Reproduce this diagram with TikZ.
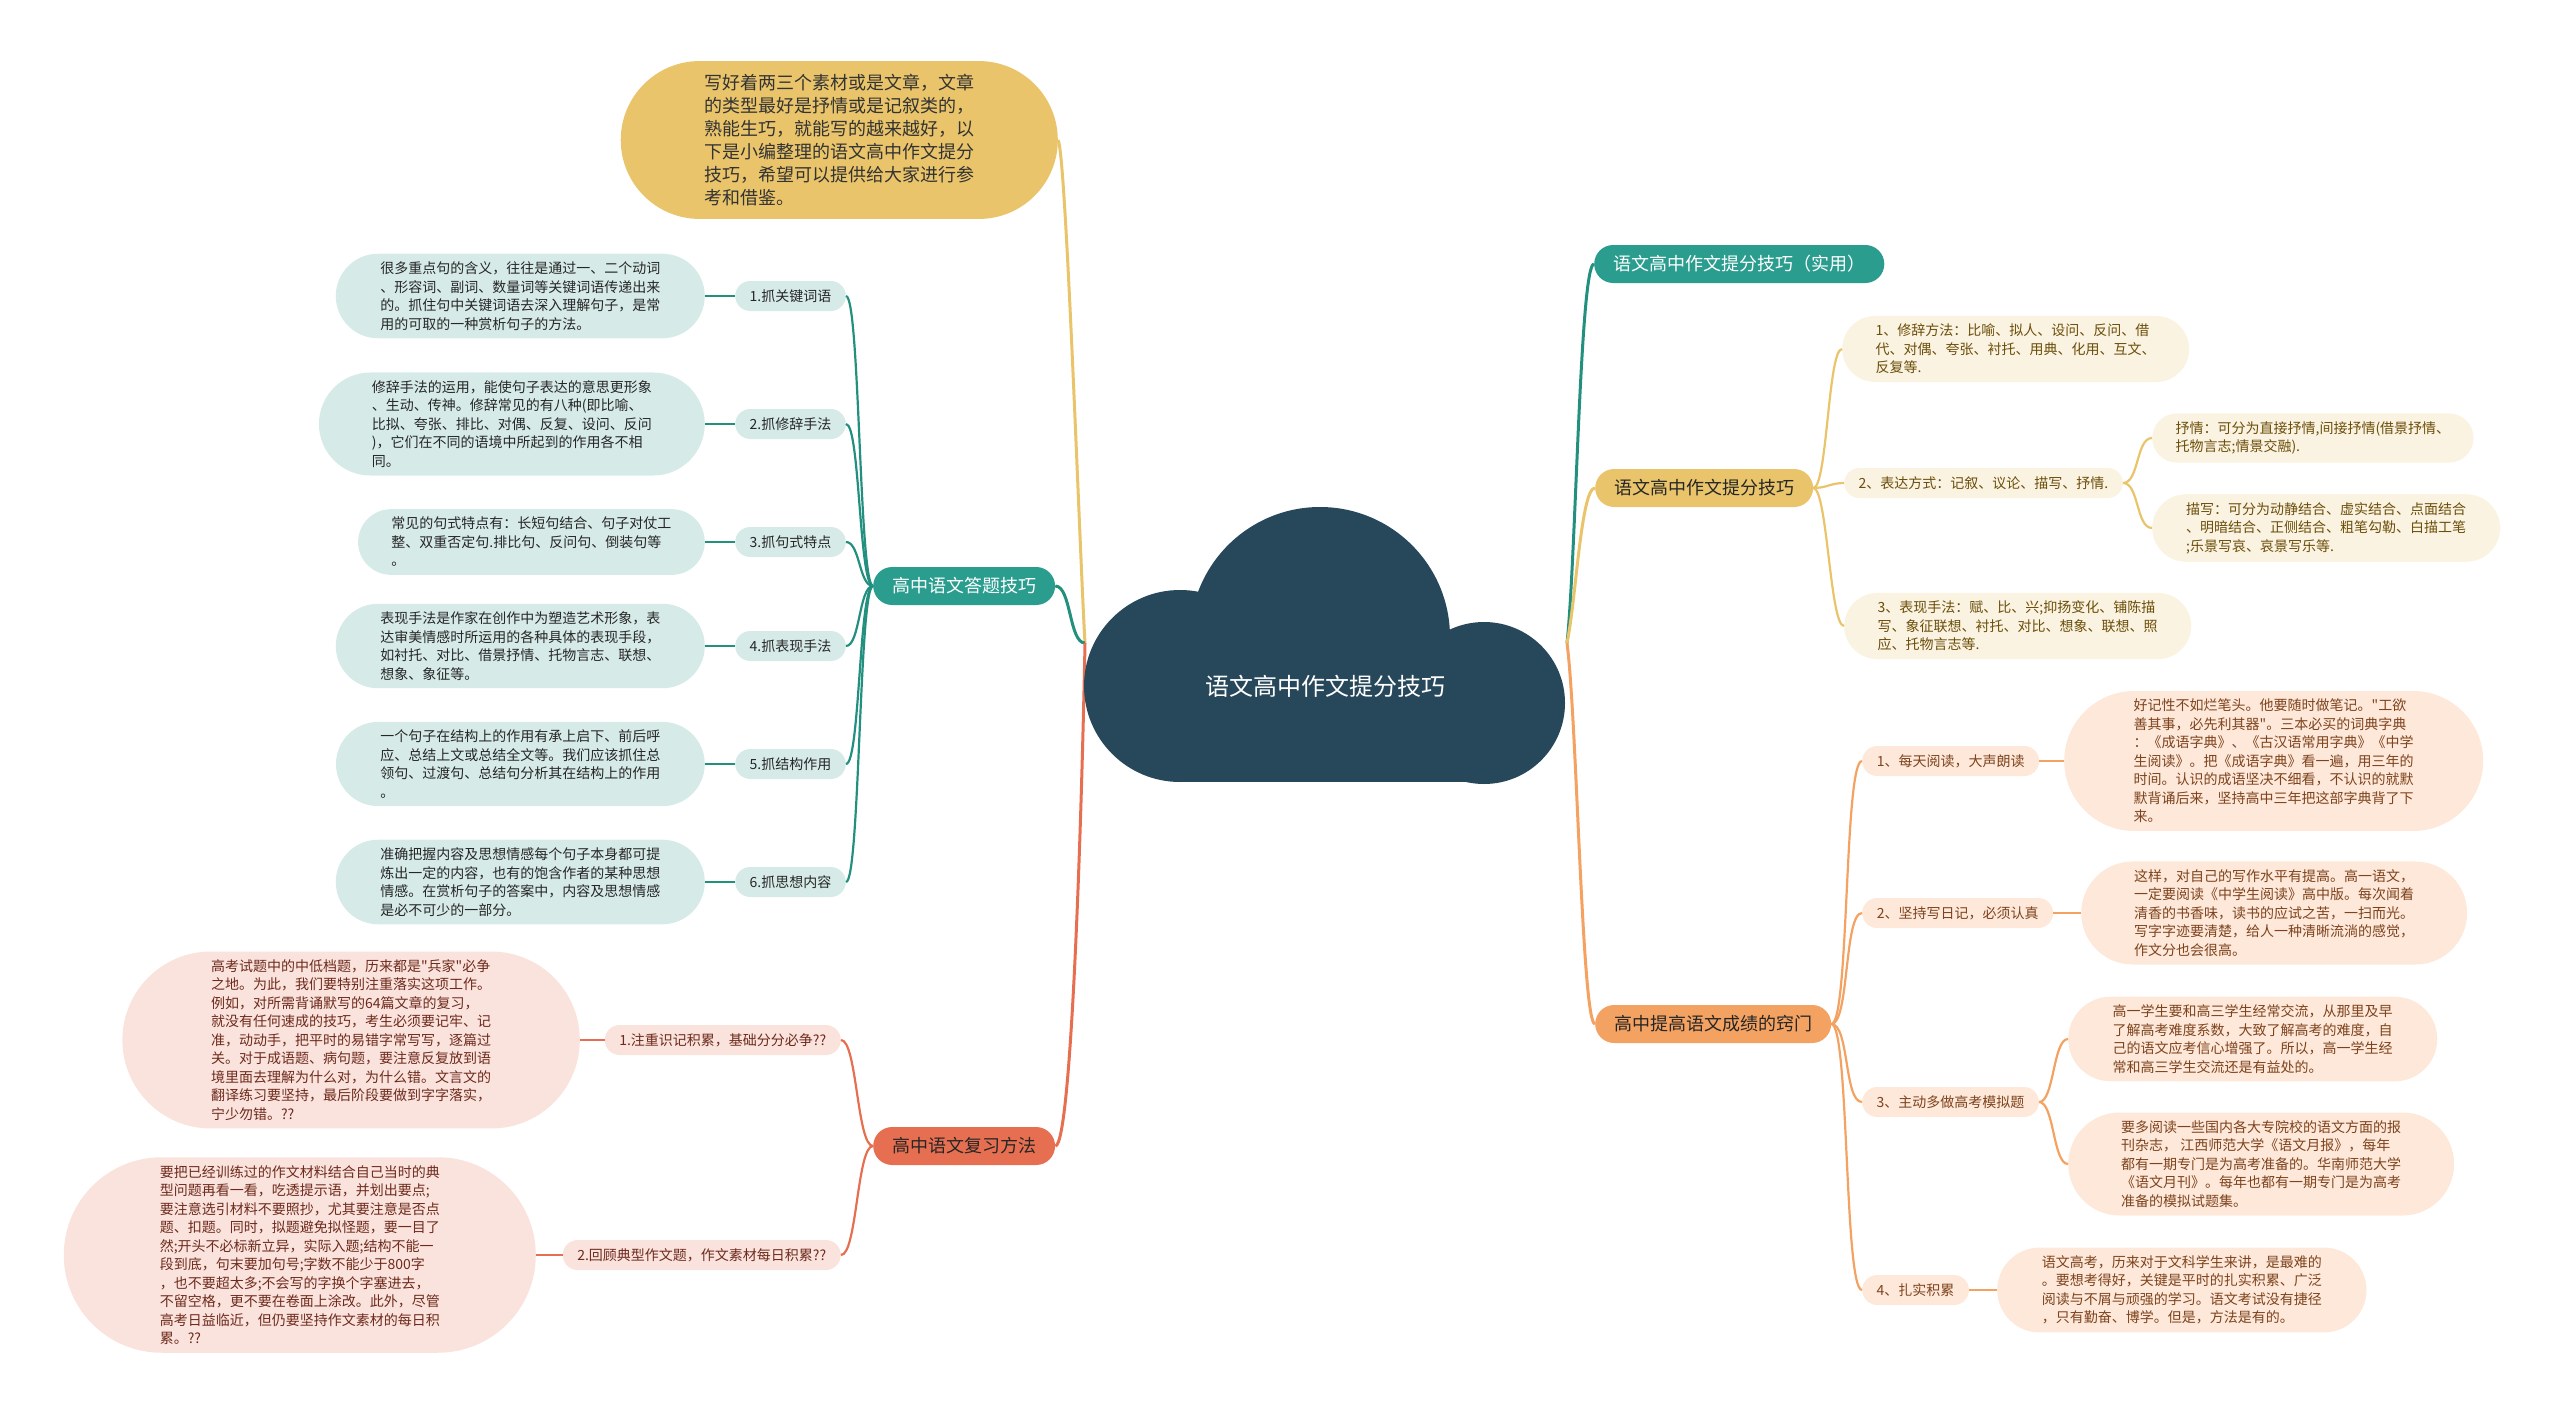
\documentclass[tikz,border=0pt]{standalone}
\usepackage{fontspec}
\setmainfont{Noto Sans CJK SC}[Ligatures=TeXOff]
\usepackage{tikz}
\usetikzlibrary{shapes.misc}
\usepackage{xcolor}

\definecolor{nuvol}{HTML}{27485A}
\definecolor{verd}{HTML}{2A9D8F}
\definecolor{verdlt}{HTML}{D6EBE8}
\definecolor{verdln}{HTML}{23907F}
\definecolor{groc}{HTML}{E9C46A}
\definecolor{groclt}{HTML}{FBF3E1}
\definecolor{groctx}{HTML}{6B4E0A}
\definecolor{taronja}{HTML}{F4A261}
\definecolor{taronjalt}{HTML}{FDE8DA}
\definecolor{taronjatx}{HTML}{7E431C}
\definecolor{vermell}{HTML}{E76F51}
\definecolor{vermelllt}{HTML}{FAE3DD}
\definecolor{vermelltx}{HTML}{6E2A1C}

\begin{document}
\begin{tikzpicture}[x=1pt, y=-1pt,
    fulla/.style={rounded rectangle, inner xsep=#1, inner ysep=8pt, align=left,
        font=\fontsize{14}{18.5}\selectfont},
    fulla/.default=27pt,
    punt/.style={rounded rectangle, inner xsep=13pt, minimum height=30pt,
        font=\fontsize{14}{17}\selectfont},
    tema/.style={rounded rectangle, inner xsep=17pt, minimum height=38pt,
        font=\fontsize{18}{22}\selectfont},
    branca/.style={line width=3pt},
    rama/.style={line width=2.2pt}
]

\useasboundingbox (0,0) rectangle (2560,1413);

% Punts d'unio del nuvol
\coordinate (cl) at (1085,643);
\coordinate (cr) at (1567,643);

% Branca: introduccio
\node[rounded rectangle, fill=groc, text=black!80, inner xsep=48pt, inner ysep=13pt,
    align=left, font=\fontsize{18}{23}\selectfont, anchor=east] (intro) at (1058,140)
    {写好着两三个素材或是文章，文章\\的类型最好是抒情或是记叙类的，\\熟能生巧，就能写的越来越好，以\\下是小编整理的语文高中作文提分\\技巧，希望可以提供给大家进行参\\考和借鉴。};

% Branca: 高中语文答题技巧
\node[tema, fill=verd, text=white, anchor=west] (dati) at (873,586) {高中语文答题技巧};

\node[punt, fill=verdlt, text=black!85, anchor=east] (d1) at (846,296) {1.抓关键词语};
\node[punt, fill=verdlt, text=black!85, anchor=east] (d2) at (846,424) {2.抓修辞手法};
\node[punt, fill=verdlt, text=black!85, anchor=east] (d3) at (846,542) {3.抓句式特点};
\node[punt, fill=verdlt, text=black!85, anchor=east] (d4) at (846,646) {4.抓表现手法};
\node[punt, fill=verdlt, text=black!85, anchor=east] (d5) at (846,764) {5.抓结构作用};
\node[punt, fill=verdlt, text=black!85, anchor=east] (d6) at (846,882) {6.抓思想内容};

\node[fulla, fill=verdlt, text=black!85, anchor=east] (dl1) at (705,296)
    {很多重点句的含义，往往是通过一、二个动词\\、形容词、副词、数量词等关键词语传递出来\\的。抓住句中关键词语去深入理解句子，是常\\用的可取的一种赏析句子的方法。};
\node[fulla=29pt, fill=verdlt, text=black!85, anchor=east] (dl2) at (705,424)
    {修辞手法的运用，能使句子表达的意思更形象\\、生动、传神。修辞常见的有八种(即比喻、\\比拟、夸张、排比、对偶、反复、设问、反问\\)，它们在不同的语境中所起到的作用各不相\\同。};
\node[fulla=22pt, fill=verdlt, text=black!85, anchor=east] (dl3) at (705,542)
    {常见的句式特点有：长短句结合、句子对仗工\\整、双重否定句.排比句、反问句、倒装句等\\。};
\node[fulla, fill=verdlt, text=black!85, anchor=east] (dl4) at (705,646)
    {表现手法是作家在创作中为塑造艺术形象，表\\达审美情感时所运用的各种具体的表现手段，\\如衬托、对比、借景抒情、托物言志、联想、\\想象、象征等。};
\node[fulla, fill=verdlt, text=black!85, anchor=east] (dl5) at (705,764)
    {一个句子在结构上的作用有承上启下、前后呼\\应、总结上文或总结全文等。我们应该抓住总\\领句、过渡句、总结句分析其在结构上的作用\\。};
\node[fulla, fill=verdlt, text=black!85, anchor=east] (dl6) at (705,882)
    {准确把握内容及思想情感每个句子本身都可提\\炼出一定的内容，也有的饱含作者的某种思想\\情感。在赏析句子的答案中，内容及思想情感\\是必不可少的一部分。};

% Branca: 高中语文复习方法
\node[tema, fill=vermell, text=black!85, anchor=west] (fuxi) at (873,1146) {高中语文复习方法};

\node[punt, fill=vermelllt, text=vermelltx, anchor=east] (f1) at (841,1040) {1.注重识记积累，基础分分必争??};
\node[punt, fill=vermelllt, text=vermelltx, anchor=east] (f2) at (841,1255) {2.回顾典型作文题，作文素材每日积累??};

\node[fulla=37pt, fill=vermelllt, text=vermelltx, anchor=east] (fl1) at (580,1040)
    {高考试题中的中低档题，历来都是"兵家"必争\\之地。为此，我们要特别注重落实这项工作。\\例如，对所需背诵默写的64篇文章的复习，\\就没有任何速成的技巧，考生必须要记牢、记\\准，动动手，把平时的易错字常写写，逐篇过\\关。对于成语题、病句题，要注意反复放到语\\境里面去理解为什么对，为什么错。文言文的\\翻译练习要坚持，最后阶段要做到字字落实，\\宁少勿错。??};
\node[fulla=37pt, fill=vermelllt, text=vermelltx, anchor=east] (fl2) at (536,1255)
    {要把已经训练过的作文材料结合自己当时的典\\型问题再看一看，吃透提示语，并划出要点;\\要注意选引材料不要照抄，尤其要注意是否点\\题、扣题。同时，拟题避免拟怪题，要一目了\\然;开头不必标新立异，实际入题;结构不能一\\段到底，句末要加句号;字数不能少于800字\\，也不要超太多;不会写的字换个字塞进去，\\不留空格，更不要在卷面上涂改。此外，尽管\\高考日益临近，但仍要坚持作文素材的每日积\\累。??};

% Branca: 语文高中作文提分技巧（实用）
\node[tema, fill=verd, text=white, anchor=west] (shiyong) at (1594,264) {语文高中作文提分技巧（实用）};

% Branca: 语文高中作文提分技巧
\node[tema, fill=groc, text=black!85, anchor=west] (tifen) at (1595,488) {语文高中作文提分技巧};

\node[fulla=22pt, fill=groclt, text=groctx, anchor=west] (y1) at (1842,349)
    {1、修辞方法：比喻、拟人、设问、反问、借\\代、对偶、夸张、衬托、用典、化用、互文、\\反复等.};
\node[punt, fill=groclt, text=groctx, anchor=west] (y2) at (1844,483) {2、表达方式：记叙、议论、描写、抒情.};
\node[fulla=17pt, fill=groclt, text=groctx, anchor=west] (y2a) at (2152,438)
    {抒情：可分为直接抒情,间接抒情(借景抒情、\\托物言志;情景交融).};
\node[fulla=22pt, fill=groclt, text=groctx, anchor=west] (y2b) at (2152,528)
    {描写：可分为动静结合、虚实结合、点面结合\\、明暗结合、正侧结合、粗笔勾勒、白描工笔\\;乐景写哀、哀景写乐等.};
\node[fulla=22pt, fill=groclt, text=groctx, anchor=west] (y3) at (1844,626)
    {3、表现手法：赋、比、兴;抑扬变化、铺陈描\\写、象征联想、衬托、对比、想象、联想、照\\应、托物言志等.};

% Branca: 高中提高语文成绩的窍门
\node[tema, fill=taronja, text=black!85, anchor=west] (qiaomen) at (1595,1024) {高中提高语文成绩的窍门};

\node[punt, fill=taronjalt, text=taronjatx, anchor=west] (q1) at (1862,761) {1、每天阅读，大声朗读};
\node[punt, fill=taronjalt, text=taronjatx, anchor=west] (q2) at (1862,913) {2、坚持写日记，必须认真};
\node[punt, fill=taronjalt, text=taronjatx, anchor=west] (q3) at (1862,1102) {3、主动多做高考模拟题};
\node[punt, fill=taronjalt, text=taronjatx, anchor=west] (q4) at (1862,1290) {4、扎实积累};

\node[fulla=32pt, fill=taronjalt, text=taronjatx, anchor=west] (ql1) at (2064,761)
    {好记性不如烂笔头。他要随时做笔记。"工欲\\善其事，必先利其器"。三本必买的词典字典\\：《成语字典》、《古汉语常用字典》《中学\\生阅读》。把《成语字典》看一遍，用三年的\\时间。认识的成语坚决不细看，不认识的就默\\默背诵后来，坚持高中三年把这部字典背了下\\来。};
\node[fulla=29pt, fill=taronjalt, text=taronjatx, anchor=west] (ql2) at (2081,913)
    {这样，对自己的写作水平有提高。高一语文，\\一定要阅读《中学生阅读》高中版。每次闻着\\清香的书香味，读书的应试之苦，一扫而光。\\写字字迹要清楚，给人一种清晰流淌的感觉，\\作文分也会很高。};
\node[fulla, fill=taronjalt, text=taronjatx, anchor=west] (ql3a) at (2068,1039)
    {高一学生要和高三学生经常交流，从那里及早\\了解高考难度系数，大致了解高考的难度，自\\己的语文应考信心增强了。所以，高一学生经\\常和高三学生交流还是有益处的。};
\node[fulla=29pt, fill=taronjalt, text=taronjatx, anchor=west] (ql3b) at (2068,1164)
    {要多阅读一些国内各大专院校的语文方面的报\\刊杂志， 江西师范大学《语文月报》，每年\\都有一期专门是为高考准备的。华南师范大学\\《语文月刊》。每年也都有一期专门是为高考\\准备的模拟试题集。};
\node[fulla, fill=taronjalt, text=taronjatx, anchor=west] (ql4) at (1997,1290)
    {语文高考，历来对于文科学生来讲，是最难的\\。要想考得好，关键是平时的扎实积累、广泛\\阅读与不屑与顽强的学习。语文考试没有捷径\\，只有勤奋、博学。但是，方法是有的。};

% Connectors
\draw[branca, groc] (cl) .. controls (1080,560) and (1066,150) .. (intro.east);
\draw[branca, verdln] (cl) .. controls +(-16,0) and +(16,0) .. (dati.east);
\draw[branca, vermell] (cl) .. controls (1082,800) and (1072,1146) .. (fuxi.east);
\draw[branca, verdln] (cr) .. controls (1576,560) and (1580,264) .. (shiyong.west);
\draw[branca, groc] (cr) .. controls (1576,600) and (1581,488) .. (tifen.west);
\draw[branca, taronja] (cr) .. controls (1577,720) and (1582,1024) .. (qiaomen.west);

\foreach \n in {1,...,6} {
    \draw[rama, verdln] (dati.west) .. controls +(-14,0) and +(14,0) .. (d\n.east);
    \draw[rama, verdln] (dl\n.east) -- (d\n.west);
}
\foreach \n in {1,2} {
    \draw[rama, vermell] (fuxi.west) .. controls +(-16,0) and +(16,0) .. (f\n.east);
    \draw[rama, vermell] (fl\n.east) -- (f\n.west);
}
\foreach \n in {y1,y2,y3}
    \draw[rama, groc] (tifen.east) .. controls +(14,0) and +(-14,0) .. (\n.west);
\foreach \n in {y2a,y2b}
    \draw[rama, groc] (y2.east) .. controls +(16,0) and +(-16,0) .. (\n.west);
\foreach \n in {q1,q2,q3,q4}
    \draw[rama, taronja] (qiaomen.east) .. controls +(18,0) and +(-18,0) .. (\n.west);
\draw[rama, taronja] (q1.east) -- (ql1.west);
\draw[rama, taronja] (q2.east) -- (ql2.west);
\draw[rama, taronja] (q4.east) -- (ql4.west);
\foreach \n in {ql3a,ql3b}
    \draw[rama, taronja] (q3.east) .. controls +(15,0) and +(-15,0) .. (\n.west);

% Nuvol central
\fill[nuvol] (1180,686) circle (96);
\fill[nuvol] (1320,637) circle (130);
\fill[nuvol] (1484,703) circle (81);
\fill[nuvol] (1180,640) rectangle (1484,782);
\node[text=white, font=\fontsize{24}{28}\selectfont] (centre) at (1325,686) {语文高中作文提分技巧};

\end{tikzpicture}
\end{document}
